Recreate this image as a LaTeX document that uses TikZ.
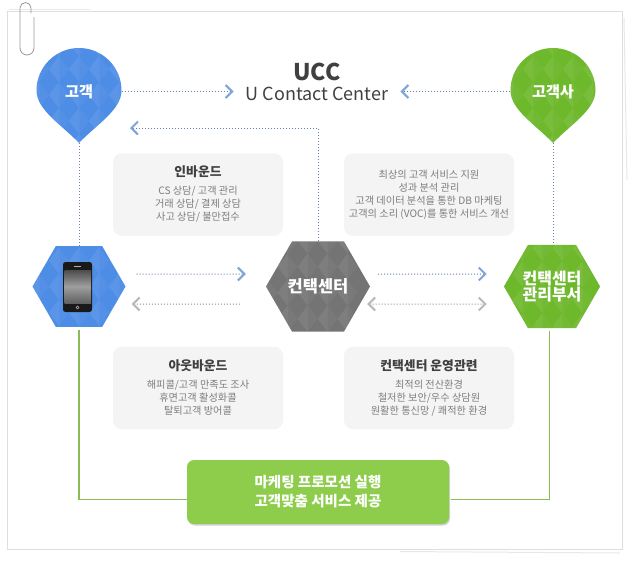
\documentclass[tikz,border=0pt]{standalone}
\usepackage{fontspec}
\setmainfont{Noto Sans CJK KR}
\usetikzlibrary{arrows.meta, shapes.geometric, shadows}
\definecolor{custblue}{RGB}{78,141,230}
\definecolor{custgreen}{RGB}{110,184,44}
\definecolor{hubgray}{RGB}{116,116,116}
\definecolor{boxgray}{RGB}{244,244,244}
\definecolor{linegreen}{RGB}{140,186,84}
\definecolor{mktgreen}{RGB}{142,205,76}
\definecolor{tipblue}{RGB}{125,165,220}
\definecolor{tipgray}{RGB}{185,185,185}
\definecolor{dotblue}{RGB}{100,130,170}
\definecolor{dotgray}{RGB}{140,140,140}
\definecolor{headtext}{RGB}{64,64,64}
\definecolor{bodytext}{RGB}{125,125,125}
\definecolor{cardline}{RGB}{222,222,222}
% lozenge texture of the pins and hexagons
\newcommand{\lozenges}{%
  \foreach \col in {-3,...,3} {
    \foreach \row in {-3,...,3} {
      \pgfmathsetmacro{\cx}{\col*20}
      \pgfmathsetmacro{\cy}{\row*26}
      \fill[white, opacity=0.08] (\cx,\cy-13) -- (\cx-10,\cy) -- (\cx,\cy+13) -- cycle;
      \fill[white, opacity=0.04] (\cx,\cy-13) -- (\cx+10,\cy) -- (\cx,\cy+13) -- cycle;
    }
  }}
\newcommand{\headline}[1]{{\fontsize{12.8}{14}\selectfont\bfseries\color{headtext}#1}}
\begin{document}
\begin{tikzpicture}[
    x=1pt, y=-1pt,
    bluetip/.tip={Straight Barb[length=6.5pt, width=13pt, line width=2pt, color=tipblue]},
    graytip/.tip={Straight Barb[length=6.5pt, width=13pt, line width=2pt, color=tipgray]},
    hexnode/.style={regular polygon, regular polygon sides=6, inner sep=0pt, text=white,
                    align=center, font=\fontsize{16}{15.5}\selectfont\bfseries,
                    path picture={\lozenges}},
    pinnode/.style={circle, minimum size=85pt, inner sep=0pt, text=white,
                    font=\fontsize{15.2}{17}\selectfont\bfseries},
    infobox/.style={fill=boxgray, rounded corners=9pt, minimum width=170pt, minimum height=82.5pt,
                    align=center, text=bodytext, font=\fontsize{10.2}{13}\selectfont},
    bluearr/.style={dash pattern=on 1pt off 2pt, line width=1pt, dotblue, -bluetip},
    grayarr/.style={dash pattern=on 1pt off 2pt, line width=1pt, dotgray, -graytip},
    plainlink/.style={dash pattern=on 1pt off 2pt, line width=1pt, dotblue},
    greenlink/.style={linegreen, line width=1.5pt},
  ]
  \useasboundingbox (0,0) rectangle (629,560);
  \fill[white] (0,0) rectangle (629,560);

  % card and its paper edges
  \draw[cardline, line width=1pt] (7.5,11.5) rectangle (622,549);
  \draw[cardline!70, line width=1pt] (9,9) -- (90,9);
  \draw[cardline!70, line width=1pt] (624,18) -- (627,180);
  \draw[cardline!70, line width=1pt] (400,551.5) -- (620,553);

  % paper clip
  \draw[gray!80, line width=0.8pt] (34,17) -- (34,48) arc[start angle=0, end angle=180, radius=7]
    -- (20,8) arc[start angle=180, end angle=360, radius=5.5] -- (31,13);

  % pins
  \fill[custblue] (79,143) .. controls (62,125) and (36.5,110) .. (36.5,90.5)
    arc[start angle=180, end angle=360, radius=42.5]
    .. controls (121.5,110) and (96,125) .. (79,143);
  \begin{scope}[shift={(79,95)}]
    \clip (0,48) .. controls (-17,30) and (-42.5,15) .. (-42.5,-4.5)
      arc[start angle=180, end angle=360, radius=42.5]
      .. controls (42.5,15) and (17,30) .. (0,48);
    \lozenges
  \end{scope}
  \fill[custgreen] (553,143) .. controls (536,125) and (510.5,110) .. (510.5,90.5)
    arc[start angle=180, end angle=360, radius=42.5]
    .. controls (595.5,110) and (570,125) .. (553,143);
  \begin{scope}[shift={(553,95)}]
    \clip (0,48) .. controls (-17,30) and (-42.5,15) .. (-42.5,-4.5)
      arc[start angle=180, end angle=360, radius=42.5]
      .. controls (42.5,15) and (17,30) .. (0,48);
    \lozenges
  \end{scope}
  \node[pinnode] (custA) at (79,91.5) {고객};
  \node[pinnode] (custB) at (553,91.5) {고객사};
  \coordinate (tipA) at (79,143);
  \coordinate (tipB) at (553,143);
  \coordinate (backTip) at (130,128);

  % title
  \node[text=headtext, font=\fontsize{23}{25}\selectfont\bfseries, inner sep=0pt] (ucc) at (317,72) {UCC};
  \node[text=headtext, font=\fontsize{18}{20}\selectfont, inner sep=12pt, text height=17pt, text depth=0pt] (uccFull) at (317,91.5) {U Contact Center};

  % hexagons
  \node[hexnode, fill=custblue, minimum size=93pt] (phone) at (79,286.5) {};
  \node[hexnode, fill=hubgray, minimum size=104pt, font=\fontsize{16.5}{18}\selectfont\bfseries] (hub) at (318,286.5) {컨택센터};
  \node[hexnode, fill=custgreen, minimum size=93pt] (dept) at (552,286.5) {컨택센터\\관리부서};

  % phone in the hexagon
  \fill[black!90, rounded corners=2.5pt] (63,262) rectangle (92,312);
  \shade[top color=black!70, bottom color=black!62, middle color=black!38] (64.5,270) rectangle (91,303);
  \fill[white!70!black] (74,265.5) rectangle (81,266.5);
  \draw[white!70!black, line width=0.6pt] (77.5,307.5) circle[radius=1.5];

  % text boxes
  \node[infobox] (inbound) at (198,194.5) {\headline{인바운드}\\[5pt]
    CS 상담/ 고객 관리\\거래 상담/ 결제 상담\\사고 상담/ 불만접수};
  \node[infobox] (support) at (429,194.5) {최상의 고객 서비스 지원\\성과 분석 관리\\고객 데이터 분석을 통한 DB 마케팅\\고객의 소리 (VOC)를 통한 서비스 개선};
  \node[infobox] (outbound) at (198,388) {\headline{아웃바운드}\\[5pt]
    해피콜/고객 만족도 조사\\휴면고객 활성화콜\\탈퇴고객 방어콜};
  \node[infobox] (operate) at (429,388) {\headline{컨택센터 운영관련}\\[5pt]
    최적의 전산환경\\철저한 보안/우수 상담원\\원활한 통신망 / 쾌적한 환경};

  % marketing box
  \node[fill=mktgreen, rounded corners=7pt, minimum width=262pt, minimum height=64pt, align=center,
        text=white, font=\fontsize{14.5}{19}\selectfont\bfseries,
        drop shadow={shadow xshift=1pt, shadow yshift=-1.5pt, fill=black, opacity=0.18}] (mkt) at (318,492)
    {마케팅 프로모션 실행\\고객맞춤 서비스 제공};

  % connectors
  \draw[bluearr] (custA) -- (uccFull);
  \draw[bluearr] (custB) -- (uccFull);
  \draw[plainlink] (tipA) -- (phone.north);
  \draw[plainlink] (tipB) -- (tipB |- dept.north);
  \draw[bluearr] (hub.north) |- (backTip);

  \draw[bluearr, shorten <=11pt, shorten >=20pt] ([yshift=12.5pt]phone.east) -- ([yshift=12.5pt]hub.west);
  \draw[grayarr, shorten <=26pt, shorten >=6pt] ([yshift=-17.5pt]hub.west) -- ([yshift=-17.5pt]phone.east);
  \draw[bluearr, shorten <=8pt, shorten >=17pt] ([yshift=12.5pt]hub.east) -- ([yshift=12.5pt]dept.west);
  \draw[grayarr, graytip-graytip, shorten <=-3pt, shorten >=17pt] ([yshift=-17.5pt]hub.east) -- ([yshift=-17.5pt]dept.west);

  \draw[greenlink, shorten <=3pt] (phone.south) |- ([yshift=-7.5pt]mkt.west);
  \draw[greenlink, shorten <=3pt, shorten >=2pt] ([xshift=-2.5pt]dept.south) |- ([yshift=-7.5pt]mkt.east);
\end{tikzpicture}
\end{document}
